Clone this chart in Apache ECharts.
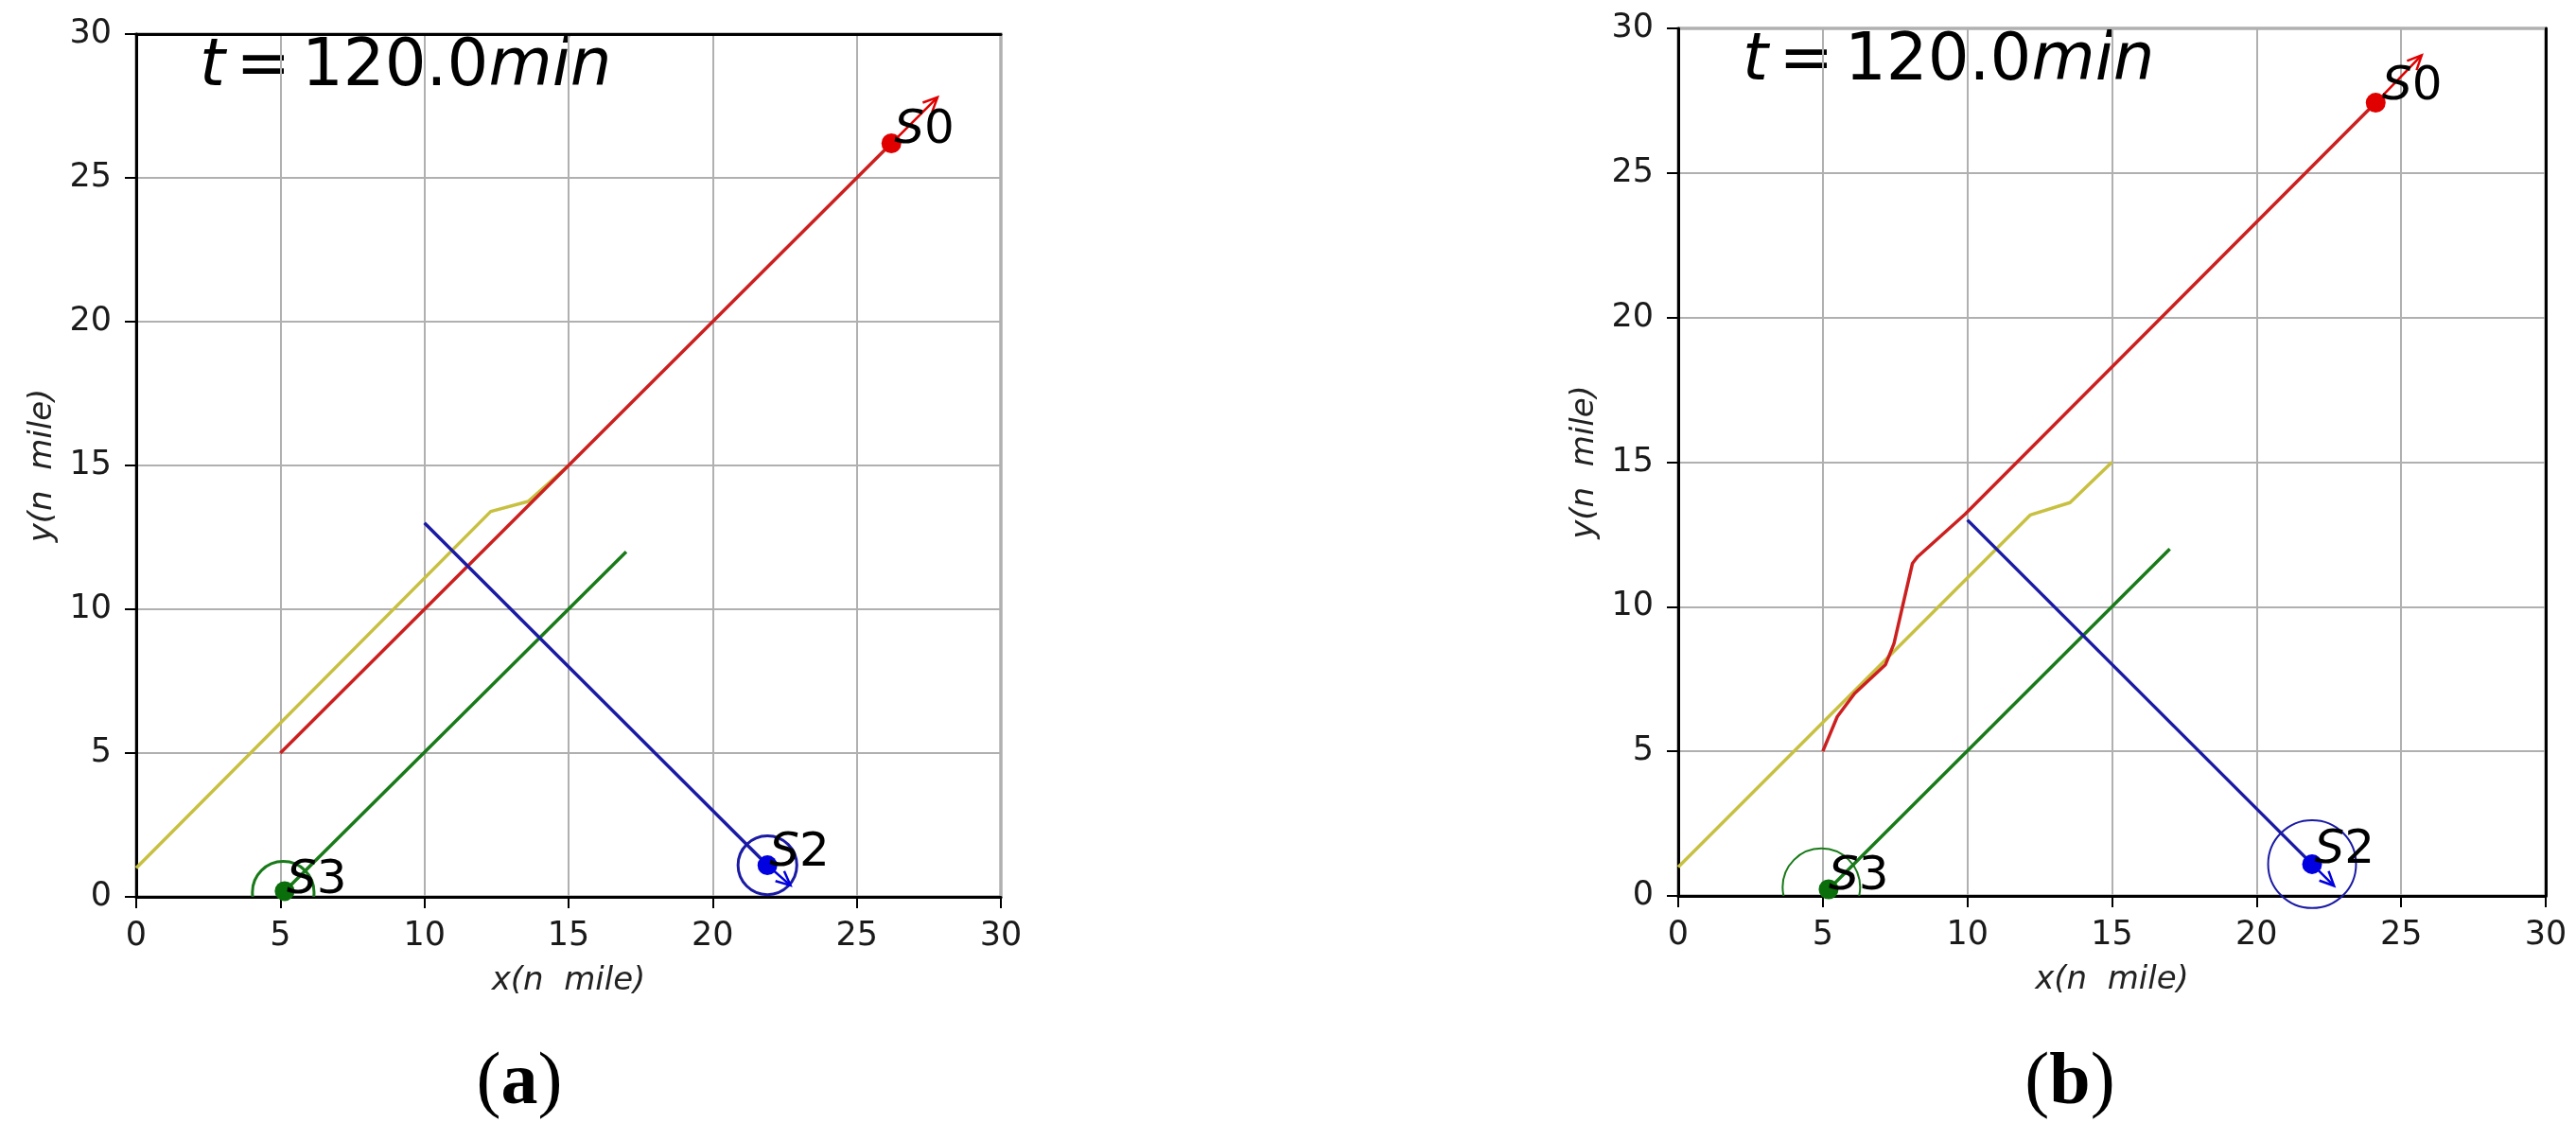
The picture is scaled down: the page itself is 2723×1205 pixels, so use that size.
<!DOCTYPE html>
<html>
<head>
<meta charset="utf-8">
<script src="https://cdn.jsdelivr.net/npm/echarts@6/dist/echarts.min.js"></script>
<style>
  html, body { margin: 0; padding: 0; background: #fff; }
  #main { width: 2723px; height: 1205px; }
</style>
</head>
<body>
<div id="main"></div>
<script>
// ticks, same on both axes of both panels
var tickValues = [0, 5, 10, 15, 20, 25, 30];
var shipNames = ['S0', 'S2', 'S3'];

// ---- panel (a) ----
var aRed = [[5, 5], [15, 15], [26.2, 26.2]];
var aYellow = [[0, 1], [12.3, 13.4], [13.6, 13.75], [15, 15]];
var aGreen = [[17, 12], [5.15, 0.2]];
var aBlue = [[10, 13], [21.9, 1.1]];
var aShips = [[26.2, 26.2], [21.9, 1.1], [5.15, 0.2]];          // S0, S2, S3
var aHeading = [[26.2, 26.2, 27.8, 27.8], [21.9, 1.1, 22.7, 0.4]]; // S0, S2
var aRings = [[21.9, 1.1, 1.02], [5.1, 0.16, 1.07]];            // S2, S3 (x, y, r)
var aNamePos = [[26.3, 26.65], [21.97, 1.5], [5.22, 0.55]];

// ---- panel (b) ----
var bRed = [[5, 5], [5.5, 6.2], [6.1, 7.0], [7.17, 8.0], [7.46, 8.72], [8.1, 11.5], [8.28, 11.73], [9.92, 13.2], [24.12, 27.43]];
var bYellow = [[0, 1], [12.17, 13.17], [13.55, 13.6], [15, 15]];
var bGreen = [[17, 12], [5.2, 0.23]];
var bBlue = [[10, 13], [21.92, 1.1]];
var bShips = [[24.12, 27.43], [21.92, 1.1], [5.2, 0.23]];
var bHeading = [[24.12, 27.43, 25.71, 29.07], [21.92, 1.1, 22.68, 0.35]];
var bRings = [[21.92, 1.1, 1.52], [4.95, 0.3, 1.34]];
var bNamePos = [[24.34, 27.97], [22.0, 1.56], [5.2, 0.66]];

var RED = '#cc2020', YEL = '#c8c040', GRN = '#187a18', BLU = '#1a1aa5';
var shipColors = ['#e00000', '#0000e0', '#0a6e0a'];
var FONT = 'DejaVu Sans';

var chart = echarts.init(document.getElementById('main'));

function valueAxis(gridIndex, pos, isX) {
  return {
    type: 'value', gridIndex: gridIndex, position: pos,
    min: tickValues[0], max: tickValues[tickValues.length - 1],
    interval: tickValues[1] - tickValues[0],
    name: isX ? 'x(n  mile)' : 'y(n  mile)',
    nameLocation: 'middle',
    nameGap: isX ? 72 : 82,
    nameTextStyle: { fontFamily: FONT, fontStyle: 'italic', fontSize: 34, color: '#222' },
    axisLine: { show: true, onZero: false, lineStyle: { color: '#000', width: 3 } },
    axisTick: { show: true, length: 12, lineStyle: { color: '#000', width: 2 } },
    axisLabel: { fontFamily: FONT, fontSize: 35, color: '#1a1a1a', margin: isX ? 24 : 26 },
    splitLine: { show: true, lineStyle: { color: '#b0b0b0', width: 2 } }
  };
}

function spineAxis(gridIndex, pos) {
  return {
    type: 'value', gridIndex: gridIndex, position: pos,
    min: tickValues[0], max: tickValues[tickValues.length - 1],
    axisLine: { show: true, onZero: false, lineStyle: { color: '#000', width: 3 } },
    axisTick: { show: false }, axisLabel: { show: false }, splitLine: { show: false }
  };
}

function lineSeries(idx, pts, color) {
  return {
    type: 'line', xAxisIndex: idx, yAxisIndex: idx, data: pts,
    showSymbol: false, symbol: 'none', clip: true, z: 3,
    lineStyle: { color: color, width: 3.5 }
  };
}

function ringSeries(idx, rings, colors, clipIt, width) {
  return {
    type: 'custom', xAxisIndex: idx, yAxisIndex: idx, data: rings, clip: clipIt, z: 4,
    renderItem: function (params, api) {
      var c = api.coord([api.value(0), api.value(1)]);
      var s = api.size([api.value(2), api.value(2)]);
      return {
        type: 'circle', shape: { cx: c[0], cy: c[1], r: s[0] },
        style: { fill: 'none', stroke: colors[params.dataIndex], lineWidth: width }
      };
    }
  };
}

function arrowSeries(idx, arrows, colors) {
  return {
    type: 'custom', xAxisIndex: idx, yAxisIndex: idx, data: arrows, z: 6,
    renderItem: function (params, api) {
      var p0 = api.coord([api.value(0), api.value(1)]);
      var p1 = api.coord([api.value(2), api.value(3)]);
      var dx = p1[0] - p0[0], dy = p1[1] - p0[1];
      var L = Math.sqrt(dx * dx + dy * dy), ux = dx / L, uy = dy / L;
      var h = 15, w = 7;
      var b = [p1[0] - ux * h, p1[1] - uy * h];
      var col = colors[params.dataIndex];
      return {
        type: 'group', children: [
          { type: 'line', shape: { x1: p0[0], y1: p0[1], x2: p1[0], y2: p1[1] }, style: { stroke: col, lineWidth: 2.5 } },
          { type: 'polyline', shape: { points: [[b[0] - uy * w, b[1] + ux * w], p1, [b[0] + uy * w, b[1] - ux * w]] },
            style: { stroke: col, lineWidth: 2.5, fill: null } }
        ]
      };
    }
  };
}

function nameSeries(idx, pos) {
  return {
    type: 'custom', xAxisIndex: idx, yAxisIndex: idx, data: pos, z: 7,
    renderItem: function (params, api) {
      var p = api.coord([api.value(0), api.value(1)]);
      var nm = shipNames[params.dataIndex];
      return {
        type: 'text', x: p[0], y: p[1],
        style: {
          text: '{i|' + nm.charAt(0) + '}{n|' + nm.slice(1) + '}',
          textAlign: 'left', textVerticalAlign: 'middle', align: 'left', verticalAlign: 'middle',
          fill: '#000',
          rich: {
            i: { fontFamily: FONT, fontStyle: 'italic', fontSize: 50, fill: '#000', color: '#000' },
            n: { fontFamily: FONT, fontSize: 50, fill: '#000', color: '#000' }
          }
        }
      };
    }
  };
}

function panel(idx, red, yel, grn, blu, ships, heading, rings, names, ringW) {
  var list = [
    lineSeries(idx, yel, YEL),
    lineSeries(idx, red, RED),
    lineSeries(idx, grn, GRN),
    lineSeries(idx, blu, BLU),
    ringSeries(idx, [rings[0]], [BLU], false, ringW),
    ringSeries(idx, [rings[1]], [GRN], true, ringW),
    arrowSeries(idx, heading, [shipColors[0], shipColors[1]]),
    nameSeries(idx, names)
  ];
  ships.forEach(function (p, i) {
    list.push({
      type: 'scatter', xAxisIndex: idx, yAxisIndex: idx, data: [p], z: 5,
      symbolSize: 21, itemStyle: { color: shipColors[i], opacity: 1 }
    });
  });
  return list;
}

var titleRich = {
  i: { fontFamily: FONT, fontStyle: 'italic', fontSize: 69, color: '#000' },
  n: { fontFamily: FONT, fontSize: 69, color: '#000' }
};
var titleText = '{i|t}{n|\u2006=\u2006120.0}{i|min}';

var option = {
  animation: false,
  backgroundColor: '#fff',
  grid: [
    { left: 144, top: 36, width: 914, height: 912, show: true, borderColor: '#8a8a8a', borderWidth: 3 },
    { left: 1774, top: 30, width: 917, height: 917, show: true, borderColor: '#8a8a8a', borderWidth: 3 }
  ],
  xAxis: [valueAxis(0, 'bottom', true), valueAxis(1, 'bottom', true), spineAxis(0, 'top')],
  yAxis: [valueAxis(0, 'left', false), valueAxis(1, 'left', false), spineAxis(1, 'right')],
  graphic: [
    { type: 'text', x: 211, y: 72, style: { text: titleText, rich: titleRich, textVerticalAlign: 'middle', verticalAlign: 'middle' } },
    { type: 'text', x: 1842, y: 66, style: { text: titleText, rich: titleRich, textVerticalAlign: 'middle', verticalAlign: 'middle' } },
    { type: 'text', x: 549, y: 1146, style: { text: '({b|a})', textAlign: 'center', textVerticalAlign: 'middle', align: 'center', verticalAlign: 'middle',
        rich: { b: { fontFamily: 'Liberation Serif', fontWeight: 'bold', fontSize: 78, fill: '#000' } },
        font: '78px "Liberation Serif"', fill: '#000' } },
    { type: 'text', x: 2188, y: 1146, style: { text: '({b|b})', textAlign: 'center', textVerticalAlign: 'middle', align: 'center', verticalAlign: 'middle',
        rich: { b: { fontFamily: 'Liberation Serif', fontWeight: 'bold', fontSize: 78, fill: '#000' } },
        font: '78px "Liberation Serif"', fill: '#000' } }
  ],
  series: []
    .concat(panel(0, aRed, aYellow, aGreen, aBlue, aShips, aHeading, aRings, aNamePos, 3))
    .concat(panel(1, bRed, bYellow, bGreen, bBlue, bShips, bHeading, bRings, bNamePos, 2))
};

chart.setOption(option);
</script>
</body>
</html>
